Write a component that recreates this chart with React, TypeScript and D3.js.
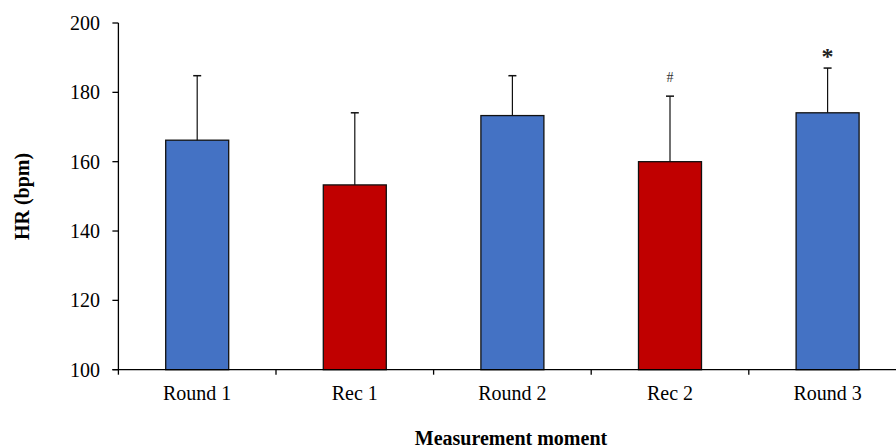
import React from "react";
import * as d3 from "d3";

const categories = ["Round 1", "Rec 1", "Round 2", "Rec 2", "Round 3"];
const means = [166.2, 153.3, 173.3, 160.0, 174.1];
const errTops = [184.8, 174.1, 184.8, 178.9, 187.0];
const colors = ["#4472C4", "#C00000", "#4472C4", "#C00000", "#4472C4"];
const markers = ["", "", "", "#", "*"];
const yTicks = [100, 120, 140, 160, 180, 200];

const W = 896;
const H = 448;
const left = 118.4;
const top = 23;
const bottom = 369.7;
const step = 157.6;

export default function App() {
  const x = d3
    .scaleBand<string>()
    .domain(categories)
    .range([left, left + step * categories.length])
    .paddingInner(0)
    .paddingOuter(0);
  const y = d3.scaleLinear().domain([100, 200]).range([bottom, top]);
  const barW = 63;
  const font = "'Liberation Serif', 'Times New Roman', serif";

  return (
    <svg
      width={W}
      height={H}
      style={{ position: "absolute", left: 0, top: 0, background: "#fff" }}
      fontFamily={font}
    >
      <rect x={0} y={0} width={W} height={H} fill="#fff" />
      {categories.map((c, i) => {
        const cx = (x(c) as number) + x.bandwidth() / 2;
        return (
          <g key={c}>
            <rect
              x={cx - barW / 2}
              y={y(means[i])}
              width={barW}
              height={y(100) - y(means[i])}
              fill={colors[i]}
              stroke="#111"
              strokeWidth={1.3}
            />
            <line x1={cx} x2={cx} y1={y(means[i])} y2={y(errTops[i])} stroke="#111" strokeWidth={1.2} />
            <line x1={cx - 4} x2={cx + 4} y1={y(errTops[i])} y2={y(errTops[i])} stroke="#111" strokeWidth={1.5} />
            {markers[i] === "#" && (
              <text x={cx} y={y(errTops[i]) - 14} textAnchor="middle" fontSize={14} fill="#333">
                #
              </text>
            )}
            {markers[i] === "*" && (
              <text x={cx} y={y(errTops[i]) - 4} textAnchor="middle" fontSize={24} fontWeight="bold" fill="#222">
                *
              </text>
            )}
          </g>
        );
      })}
      <line x1={left} x2={left} y1={top} y2={bottom} stroke="#000" strokeWidth={1.3} />
      {yTicks.map((t) => (
        <g key={t}>
          <line x1={left - 6} x2={left} y1={y(t)} y2={y(t)} stroke="#000" strokeWidth={1.3} />
          <text x={100} y={y(t) + 7} textAnchor="end" fontSize={20} fill="#000">
            {t}
          </text>
        </g>
      ))}
      <line x1={left - 6} x2={W} y1={bottom} y2={bottom} stroke="#000" strokeWidth={1.3} />
      {categories.map((c) => (
        <line
          key={"t" + c}
          x1={x(c) as number}
          x2={x(c) as number}
          y1={bottom}
          y2={bottom + 5}
          stroke="#000"
          strokeWidth={1.3}
        />
      ))}
      {categories.map((c) => (
        <text
          key={"l" + c}
          x={(x(c) as number) + x.bandwidth() / 2}
          y={400}
          textAnchor="middle"
          fontSize={20}
          fill="#000"
        >
          {c}
        </text>
      ))}
      <text x={511} y={445} textAnchor="middle" fontSize={20} fontWeight="bold" fill="#000">
        Measurement moment
      </text>
      <text
        transform={`translate(29, 196.5) rotate(-90)`}
        textAnchor="middle"
        fontSize={20}
        fontWeight="bold"
        fill="#000"
      >
        HR (bpm)
      </text>
    </svg>
  );
}
